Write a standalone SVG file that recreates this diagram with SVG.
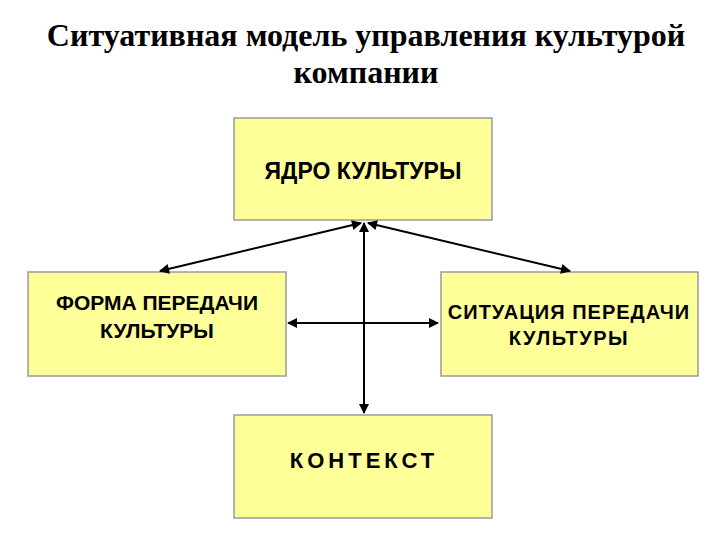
<svg xmlns="http://www.w3.org/2000/svg" width="720" height="540" viewBox="0 0 720 540">
<style>
.box{fill:#ffff99;stroke:#9a9a9a;stroke-width:1.5}
.t{font-family:"Liberation Sans",Arial,sans-serif;font-weight:bold;font-size:20px;fill:#000;text-anchor:middle}
.title{font-family:"Liberation Serif","Times New Roman",serif;font-weight:bold;font-size:32px;fill:#000;text-anchor:middle}
.c{stroke:#000;stroke-width:2;fill:none;marker-start:url(#a);marker-end:url(#a)}
</style>
<defs><marker id="a" viewBox="0 0 10 10" refX="9" refY="5" markerWidth="6" markerHeight="5" orient="auto-start-reverse" markerUnits="strokeWidth"><path d="M0,0L10,5L0,10z" fill="#000"/></marker></defs>
<rect width="720" height="540" fill="#fff"/>
<text class="title" x="366" y="46">Ситуативная модель управления культурой</text>
<text class="title" x="366" y="83">компании</text>
<g id="core"><rect class="box" x="234" y="118" width="258" height="102"/><text class="t" x="363" y="179" style="font-size:23px">ЯДРО КУЛЬТУРЫ</text></g>
<g id="form"><rect class="box" x="28" y="272" width="258" height="104"/><text class="t" x="157" y="310" style="font-size:21px">ФОРМА  ПЕРЕДАЧИ</text><text class="t" x="157" y="338" style="font-size:21px">КУЛЬТУРЫ</text></g>
<g id="situation"><rect class="box" x="441" y="272" width="257" height="104"/><text class="t" x="569" y="319" letter-spacing="1">СИТУАЦИЯ ПЕРЕДАЧИ</text><text class="t" x="569" y="345" letter-spacing="1.5">КУЛЬТУРЫ</text></g>
<g id="context"><rect class="box" x="234" y="415" width="258" height="103"/><text class="t" x="364" y="468" style="font-size:22px" letter-spacing="4">КОНТЕКСТ</text></g>
<g id="connectors">
<line class="c" x1="361" y1="223" x2="160" y2="271"/>
<line class="c" x1="368" y1="223" x2="570" y2="271"/>
<line class="c" x1="364" y1="223" x2="364" y2="413"/>
<line class="c" x1="288" y1="323" x2="438" y2="323"/>
</g>
</svg>
